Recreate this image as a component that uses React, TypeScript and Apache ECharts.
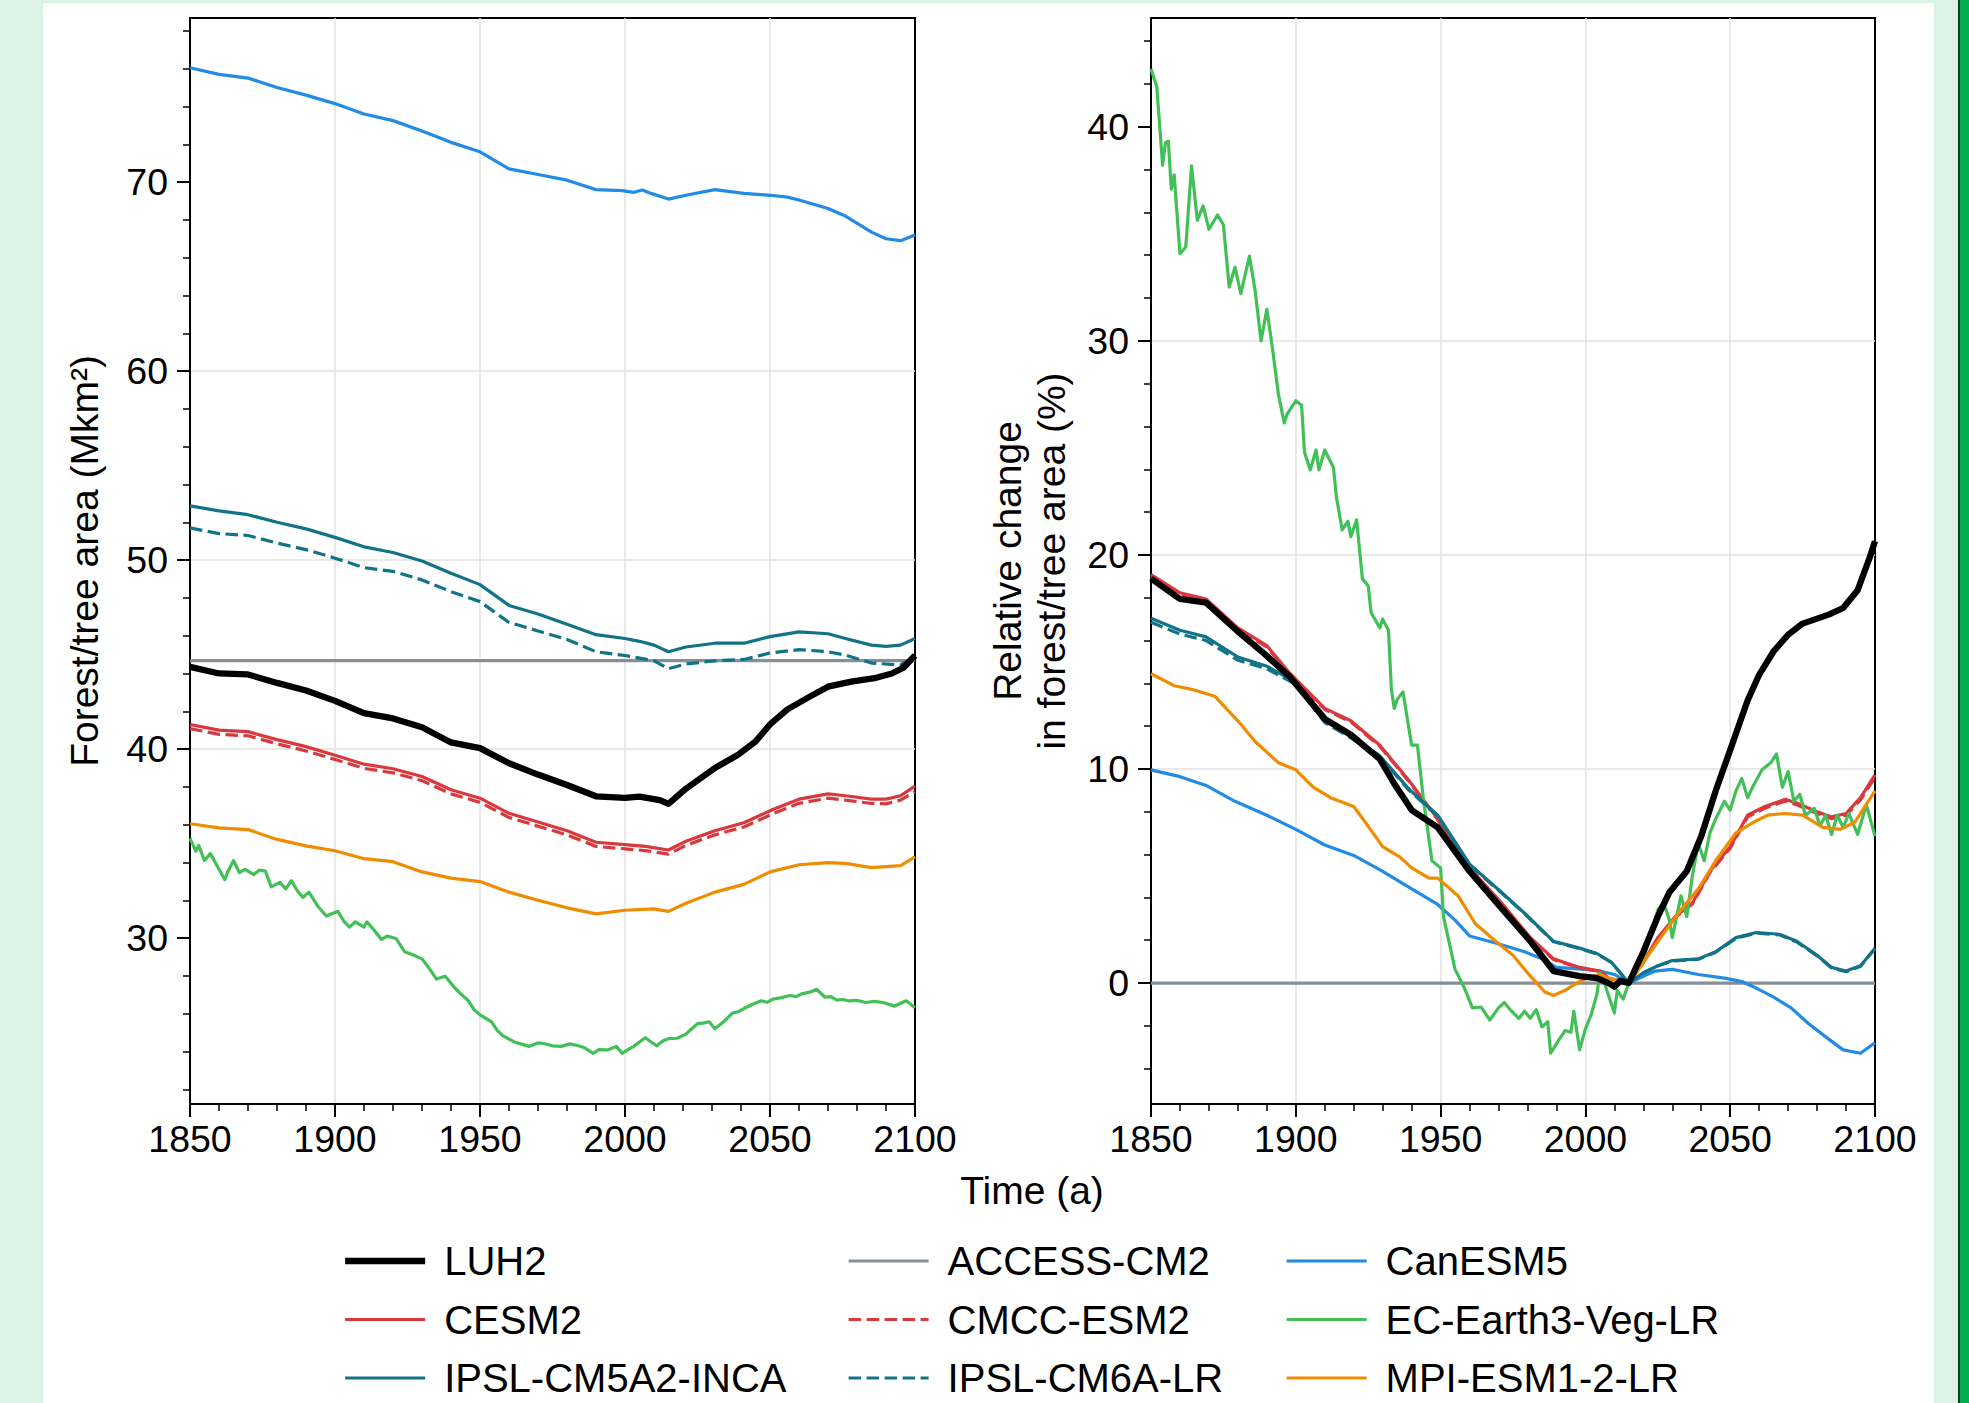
import React, { useEffect, useRef } from "react";
import * as echarts from "echarts";

const FONT = '"Liberation Sans", Arial, Helvetica, sans-serif';

// ---------- tick values ----------
const xTickLabels = [1850, 1900, 1950, 2000, 2050, 2100];
const leftMajor = [30, 40, 50, 60, 70];
const leftMinor = [22, 24, 26, 28, 32, 34, 36, 38, 42, 44, 46, 48, 52, 54, 56, 58, 62, 64, 66, 68, 72, 74, 76, 78];
const rightMajor = [0, 10, 20, 30, 40];
const rightMinor = [-4, -2, 2, 4, 6, 8, 12, 14, 16, 18, 22, 24, 26, 28, 32, 34, 36, 38, 42, 44];

// ---------- series names ----------
const col1 = ["LUH2", "CESM2", "IPSL-CM5A2-INCA"];
const col2 = ["ACCESS-CM2", "CMCC-ESM2", "IPSL-CM6A-LR"];
const col3 = ["CanESM5", "EC-Earth3-Veg-LR", "MPI-ESM1-2-LR"];

// ---------- left panel: forest/tree area (Mkm2) ----------
const luh2Abs = [[1850,44.35],[1860,44.0],[1870,43.95],[1880,43.5],[1890,43.1],[1900,42.55],[1910,41.9],[1920,41.62],[1930,41.15],[1940,40.35],[1950,40.05],[1960,39.25],[1970,38.65],[1980,38.1],[1990,37.5],[2000,37.42],[2005,37.48],[2008,37.4],[2010,37.35],[2012,37.3],[2015,37.1],[2021,37.9],[2031,39.0],[2039,39.7],[2045,40.4],[2050,41.3],[2056,42.1],[2064,42.8],[2070,43.3],[2078,43.57],[2086,43.75],[2092,44.0],[2096,44.3],[2100,44.95]];
const accessAbs = [[1850,44.68],[1900,44.68],[1950,44.68],[2000,44.68],[2050,44.68],[2100,44.68]];
const canesmAbs = [[1850,76.05],[1860,75.7],[1870,75.5],[1880,75.0],[1890,74.6],[1900,74.15],[1910,73.6],[1920,73.25],[1930,72.7],[1940,72.1],[1950,71.6],[1960,70.7],[1970,70.4],[1980,70.1],[1990,69.6],[1999,69.55],[2003,69.45],[2004,69.5],[2006,69.58],[2009,69.4],[2015,69.1],[2021,69.3],[2031,69.6],[2041,69.4],[2050,69.3],[2056,69.2],[2060,69.05],[2070,68.6],[2076,68.2],[2085,67.35],[2090,67.0],[2095,66.9],[2100,67.2]];
const cesmAbs = [[1850,41.3],[1860,41.0],[1870,40.92],[1880,40.5],[1890,40.13],[1900,39.67],[1910,39.2],[1920,38.96],[1930,38.55],[1940,37.85],[1950,37.4],[1960,36.6],[1970,36.14],[1980,35.68],[1990,35.07],[2000,34.94],[2007,34.85],[2015,34.66],[2021,35.12],[2031,35.68],[2041,36.1],[2051,36.8],[2060,37.35],[2070,37.63],[2076,37.53],[2085,37.35],[2090,37.35],[2095,37.53],[2100,38.04]];
const cmccAbs = [[1850,41.08],[1860,40.78],[1870,40.7],[1880,40.28],[1890,39.9],[1900,39.45],[1910,38.98],[1920,38.74],[1930,38.33],[1940,37.63],[1950,37.18],[1960,36.38],[1970,35.92],[1980,35.46],[1990,34.85],[2000,34.72],[2007,34.63],[2015,34.44],[2021,34.9],[2031,35.46],[2041,35.88],[2051,36.58],[2060,37.13],[2070,37.4],[2076,37.3],[2085,37.12],[2090,37.1],[2095,37.3],[2100,37.75]];
const ecearthAbs = [[1850,35.27],[1852,34.6],[1853,34.9],[1855,34.1],[1857,34.48],[1859,33.92],[1862,33.09],[1863,33.5],[1865,34.1],[1867,33.46],[1869,33.64],[1872,33.36],[1874,33.6],[1876,33.54],[1878,32.71],[1881,32.95],[1883,32.6],[1885,33.03],[1887,32.5],[1889,32.15],[1891,32.43],[1894,31.7],[1897,31.17],[1899,31.3],[1901,31.41],[1903,30.9],[1905,30.58],[1907,30.86],[1910,30.58],[1911,30.86],[1913,30.5],[1916,29.93],[1918,30.1],[1921,29.98],[1924,29.28],[1927,29.1],[1930,28.9],[1932,28.5],[1935,27.83],[1938,27.98],[1941,27.42],[1943,27.1],[1946,26.68],[1948,26.2],[1950,25.94],[1954,25.57],[1956,25.1],[1958,24.82],[1962,24.49],[1964,24.4],[1967,24.27],[1970,24.45],[1972,24.42],[1975,24.3],[1978,24.27],[1981,24.4],[1984,24.3],[1986,24.2],[1989,23.9],[1991,24.1],[1994,24.08],[1997,24.27],[1999,23.9],[2001,24.1],[2003,24.27],[2005,24.5],[2007,24.73],[2009,24.5],[2011,24.3],[2013,24.55],[2015,24.68],[2018,24.7],[2021,24.92],[2023,25.2],[2025,25.47],[2027,25.5],[2029,25.57],[2031,25.2],[2034,25.57],[2037,26.03],[2039,26.1],[2041,26.27],[2044,26.5],[2047,26.68],[2049,26.6],[2051,26.77],[2054,26.85],[2057,26.96],[2059,26.9],[2061,27.05],[2064,27.15],[2066,27.29],[2069,26.87],[2071,26.9],[2073,26.72],[2075,26.75],[2077,26.68],[2080,26.7],[2083,26.59],[2086,26.65],[2089,26.59],[2093,26.4],[2095,26.55],[2097,26.68],[2100,26.31]];
const inca5Abs = [[1850,52.87],[1860,52.6],[1870,52.4],[1880,52.0],[1890,51.65],[1900,51.2],[1910,50.7],[1920,50.4],[1930,49.95],[1940,49.3],[1950,48.7],[1960,47.6],[1970,47.15],[1980,46.6],[1990,46.05],[2000,45.85],[2005,45.7],[2010,45.5],[2015,45.15],[2021,45.4],[2031,45.6],[2041,45.6],[2050,45.95],[2060,46.2],[2070,46.1],[2076,45.85],[2085,45.5],[2090,45.43],[2095,45.5],[2100,45.85]];
const ipsl6Abs = [[1850,51.7],[1860,51.4],[1870,51.3],[1880,50.9],[1890,50.55],[1900,50.1],[1910,49.6],[1920,49.4],[1930,48.95],[1940,48.33],[1950,47.8],[1960,46.7],[1970,46.25],[1980,45.8],[1990,45.15],[2000,44.95],[2010,44.67],[2015,44.25],[2021,44.5],[2031,44.67],[2041,44.74],[2050,45.08],[2060,45.26],[2070,45.15],[2076,44.97],[2085,44.55],[2095,44.45],[2100,44.9]];
const mpiAbs = [[1850,36.05],[1860,35.83],[1870,35.74],[1880,35.22],[1890,34.88],[1900,34.62],[1910,34.2],[1920,34.04],[1930,33.5],[1940,33.17],[1950,32.99],[1960,32.43],[1970,32.0],[1980,31.6],[1990,31.28],[2000,31.47],[2010,31.54],[2015,31.41],[2021,31.84],[2031,32.43],[2041,32.84],[2050,33.5],[2060,33.88],[2070,33.99],[2076,33.95],[2085,33.73],[2095,33.83],[2100,34.29]];

// ---------- right panel: relative change (%) ----------
const luh2Rel = [[1850,18.9],[1860,17.94],[1869,17.77],[1880,16.42],[1889,15.4],[1898,14.3],[1910,12.34],[1919,11.6],[1929,10.46],[1934,9.31],[1940,8.08],[1949,7.27],[1960,5.22],[1971,3.5],[1981,1.95],[1989,0.56],[1998,0.32],[2004,0.23],[2008,0.0],[2010,-0.17],[2012,0.1],[2015,0],[2020,1.46],[2025,3.1],[2029,4.24],[2035,5.22],[2040,6.86],[2045,8.98],[2051,11.27],[2056,13.2],[2060,14.4],[2065,15.5],[2070,16.27],[2075,16.79],[2084,17.21],[2089,17.52],[2094,18.35],[2098,19.81],[2100,20.64]];
const accessRel = [[1850,0],[1900,0],[1950,0],[2000,0],[2050,0],[2100,0]];
const canesmRel = [[1850,9.96],[1860,9.64],[1869,9.23],[1879,8.49],[1890,7.84],[1900,7.18],[1910,6.45],[1920,5.96],[1930,5.22],[1940,4.4],[1949,3.67],[1955,2.94],[1960,2.2],[1969,1.87],[1979,1.46],[1985,1.13],[1990,0.73],[2000,0.64],[2005,0.56],[2010,0.4],[2015,0],[2020,0.32],[2024,0.56],[2030,0.64],[2039,0.4],[2048,0.23],[2054,0.07],[2058,-0.17],[2065,-0.66],[2071,-1.16],[2077,-1.89],[2084,-2.62],[2089,-3.12],[2095,-3.28],[2100,-2.79]];
const cesmRel = [[1850,19.08],[1860,18.23],[1869,17.94],[1880,16.59],[1890,15.76],[1898,14.46],[1910,12.83],[1919,12.25],[1929,11.11],[1939,9.47],[1949,7.67],[1960,5.38],[1971,3.75],[1981,2.12],[1989,1.13],[1998,0.73],[2005,0.56],[2008,0.23],[2015,0],[2020,0.97],[2025,2.12],[2031,3.1],[2037,3.75],[2043,5.22],[2050,6.37],[2056,7.84],[2062,8.25],[2069,8.58],[2073,8.41],[2080,8.0],[2085,7.76],[2090,7.92],[2095,8.66],[2100,9.72]];
const cmccRel = [[1850,19.0],[1860,18.15],[1869,17.88],[1880,16.52],[1890,15.7],[1898,14.4],[1910,12.78],[1919,12.2],[1929,11.06],[1939,9.43],[1949,7.63],[1960,5.35],[1971,3.72],[1981,2.1],[1989,1.1],[1998,0.71],[2005,0.54],[2008,0.22],[2015,0],[2020,0.95],[2025,2.08],[2031,3.06],[2037,3.7],[2043,5.16],[2050,6.3],[2056,7.76],[2062,8.17],[2069,8.5],[2073,8.33],[2080,7.92],[2085,7.68],[2090,7.84],[2095,8.56],[2100,9.6]];
const ecearthRel = [[1850,42.7],[1852,41.87],[1854,38.2],[1855,39.27],[1856,39.33],[1857,37.08],[1858,37.75],[1860,34.07],[1862,34.38],[1864,38.17],[1866,35.63],[1868,36.3],[1870,35.21],[1873,35.88],[1875,35.42],[1877,32.51],[1879,33.44],[1881,32.2],[1884,33.96],[1886,32.3],[1888,30.0],[1890,31.47],[1892,29.6],[1894,27.5],[1896,26.16],[1897,26.58],[1900,27.2],[1902,26.99],[1903,24.8],[1905,23.97],[1907,24.9],[1908,23.97],[1910,24.9],[1913,24.08],[1914,22.73],[1916,21.17],[1918,21.58],[1919,20.85],[1921,21.64],[1923,18.88],[1925,18.56],[1926,17.31],[1929,16.59],[1930,17.0],[1932,16.48],[1933,13.73],[1934,12.83],[1935,13.24],[1937,13.6],[1940,11.11],[1942,11.11],[1944,8.66],[1947,5.71],[1950,5.38],[1951,3.1],[1955,0.64],[1958,-0.17],[1961,-1.16],[1964,-1.12],[1967,-1.73],[1970,-1.16],[1972,-0.91],[1974,-1.24],[1977,-1.65],[1979,-1.32],[1981,-1.65],[1983,-1.24],[1985,-2.05],[1987,-1.81],[1988,-3.28],[1991,-2.62],[1993,-2.22],[1995,-2.3],[1996,-1.32],[1998,-3.12],[2000,-2.14],[2002,-1.48],[2004,-0.5],[2005,0.48],[2007,-0.17],[2009,-0.99],[2010,-1.4],[2011,-0.34],[2013,-0.75],[2015,0],[2017,0.48],[2020,1.13],[2023,2.44],[2025,3.42],[2027,3.75],[2029,2.94],[2030,2.12],[2033,4.08],[2035,3.1],[2037,5.06],[2039,6.53],[2041,5.71],[2043,7.02],[2045,7.67],[2048,8.49],[2050,8.08],[2052,8.98],[2054,9.56],[2056,8.66],[2058,9.23],[2061,9.96],[2064,10.29],[2066,10.7],[2068,9.15],[2070,9.88],[2072,8.49],[2074,8.82],[2076,7.84],[2079,8.17],[2081,7.35],[2083,7.84],[2085,6.94],[2087,7.84],[2089,7.27],[2091,7.92],[2094,6.94],[2097,8.33],[2100,6.86]];
const inca5Rel = [[1850,17.04],[1860,16.48],[1869,16.17],[1880,15.23],[1890,14.8],[1900,14.05],[1910,12.25],[1919,11.52],[1929,10.62],[1939,9.07],[1949,7.84],[1960,5.55],[1971,4.24],[1979,3.26],[1989,1.95],[1998,1.63],[2004,1.38],[2009,0.97],[2015,0],[2020,0.48],[2025,0.81],[2030,1.05],[2039,1.13],[2045,1.46],[2052,2.12],[2059,2.36],[2067,2.28],[2073,1.95],[2080,1.3],[2085,0.73],[2090,0.56],[2095,0.81],[2100,1.63]];
const ipsl6Rel = [[1850,16.85],[1860,16.3],[1869,16.0],[1880,15.08],[1890,14.68],[1900,13.95],[1910,12.17],[1919,11.45],[1929,10.56],[1939,9.02],[1949,7.8],[1960,5.52],[1971,4.21],[1979,3.24],[1989,1.93],[1998,1.61],[2004,1.36],[2009,0.96],[2015,0],[2020,0.47],[2025,0.8],[2030,1.03],[2039,1.11],[2045,1.44],[2052,2.09],[2059,2.33],[2067,2.25],[2073,1.92],[2080,1.27],[2085,0.7],[2090,0.53],[2095,0.78],[2100,1.6]];
const mpiRel = [[1850,14.45],[1858,13.89],[1864,13.72],[1872,13.4],[1880,12.25],[1886,11.27],[1894,10.29],[1900,9.96],[1906,9.15],[1912,8.66],[1920,8.25],[1924,7.51],[1930,6.37],[1936,5.88],[1940,5.38],[1946,4.9],[1949,4.9],[1956,4.08],[1962,2.77],[1969,1.95],[1975,1.3],[1981,0.32],[1986,-0.42],[1989,-0.58],[1993,-0.34],[1997,0],[2002,0.32],[2005,0.4],[2008,0.23],[2015,0],[2020,0.97],[2026,2.12],[2033,3.42],[2039,4.4],[2045,5.71],[2052,7.02],[2058,7.51],[2063,7.84],[2069,7.92],[2075,7.84],[2082,7.27],[2088,7.18],[2093,7.51],[2100,8.98]];

// ---------- styles ----------
const DASH = [12.5, 5.5];
const styles: Record<string, { color: string; width: number; dash?: number[] }> = {
  "LUH2": { color: "#000000", width: 6.3 },
  "ACCESS-CM2": { color: "#868e96", width: 3.2 },
  "CanESM5": { color: "#228be6", width: 3.2 },
  "CESM2": { color: "#d9383d", width: 3.2 },
  "CMCC-ESM2": { color: "#d9383d", width: 3.2, dash: DASH },
  "EC-Earth3-Veg-LR": { color: "#40c057", width: 3.2 },
  "IPSL-CM5A2-INCA": { color: "#117387", width: 3.2 },
  "IPSL-CM6A-LR": { color: "#117387", width: 3.2, dash: DASH },
  "MPI-ESM1-2-LR": { color: "#f08c00", width: 3.2 },
};

const absData: Record<string, number[][]> = {
  "LUH2": luh2Abs, "ACCESS-CM2": accessAbs, "CanESM5": canesmAbs, "CESM2": cesmAbs,
  "CMCC-ESM2": cmccAbs, "EC-Earth3-Veg-LR": ecearthAbs, "IPSL-CM5A2-INCA": inca5Abs,
  "IPSL-CM6A-LR": ipsl6Abs, "MPI-ESM1-2-LR": mpiAbs,
};
const relData: Record<string, number[][]> = {
  "LUH2": luh2Rel, "ACCESS-CM2": accessRel, "CanESM5": canesmRel, "CESM2": cesmRel,
  "CMCC-ESM2": cmccRel, "EC-Earth3-Veg-LR": ecearthRel, "IPSL-CM5A2-INCA": inca5Rel,
  "IPSL-CM6A-LR": ipsl6Rel, "MPI-ESM1-2-LR": mpiRel,
};
const drawOrder = ["LUH2", "ACCESS-CM2", "CanESM5", "CESM2", "CMCC-ESM2", "EC-Earth3-Veg-LR", "IPSL-CM5A2-INCA", "IPSL-CM6A-LR", "MPI-ESM1-2-LR"];

const AXIS_LINE = { color: "#000", width: 2 };
const GRID_LINE = { color: "#e2e2e2", width: 1.5 };

function xAxis(gridIndex: number) {
  return {
    type: "value", gridIndex, min: 1850, max: 2100, interval: 50,
    axisLine: { show: true, onZero: false, lineStyle: AXIS_LINE },
    axisTick: { show: true, length: 13, lineStyle: AXIS_LINE },
    minorTick: { show: true, splitNumber: 5, length: 7, lineStyle: { color: "#000", width: 1.5 } },
    axisLabel: {
      fontSize: 37.5, color: "#000", fontFamily: FONT, margin: 16,
      formatter: (v: number) => (xTickLabels.includes(v) ? String(v) : ""),
    },
    splitLine: { show: true, showMinLine: false, showMaxLine: false, lineStyle: GRID_LINE },
    minorSplitLine: { show: false },
  };
}

function yMain(gridIndex: number, min: number, max: number, majors: number[], name: string, nameGap: number, lineHeight: number) {
  return {
    type: "value", gridIndex, min, max, splitNumber: 5, position: "left",
    axisLine: { show: true, onZero: false, lineStyle: AXIS_LINE },
    axisTick: { show: true, length: 13, customValues: majors, lineStyle: AXIS_LINE },
    axisLabel: { show: true, customValues: majors, fontSize: 37.5, color: "#000", fontFamily: FONT, margin: 22 },
    splitLine: { show: true, showMinLine: false, showMaxLine: false, lineStyle: GRID_LINE },
    name, nameLocation: "middle", nameGap,
    nameTextStyle: { fontSize: 39, color: "#000", fontFamily: FONT, lineHeight, align: "center" },
  };
}

function yMinor(gridIndex: number, min: number, max: number, minors: number[]) {
  return {
    type: "value", gridIndex, min, max, splitNumber: 5, position: "left",
    axisLine: { show: false },
    axisTick: { show: true, length: 7, customValues: minors, lineStyle: { color: "#000", width: 1.5 } },
    axisLabel: { show: false },
    splitLine: { show: false },
  };
}

function buildOption() {
  const series: any[] = [];
  drawOrder.forEach((n) => {
    const s = styles[n];
    const ls = { color: s.color, width: s.width, type: s.dash ? s.dash : "solid", cap: "butt", join: "round" };
    series.push({ name: n, type: "line", xAxisIndex: 0, yAxisIndex: 0, data: absData[n], symbol: "none", showSymbol: false, lineStyle: ls, itemStyle: { color: s.color }, z: n === "LUH2" ? 3 : 2 });
    series.push({ name: n, type: "line", xAxisIndex: 1, yAxisIndex: 2, data: relData[n], symbol: "none", showSymbol: false, lineStyle: ls, itemStyle: { color: s.color }, z: n === "LUH2" ? 3 : 2 });
  });

  const legend = (names: string[], left: number) => ({
    orient: "vertical", left, top: 1236, itemWidth: 80, itemHeight: 40, itemGap: 18.5,
    data: names, selectedMode: false,
    lineStyle: { width: "inherit" },
    itemStyle: { opacity: 0, color: "rgba(0,0,0,0)", borderWidth: 0 },
    textStyle: { fontSize: 40, color: "#000", fontFamily: FONT, lineHeight: 40, padding: [0, 0, 0, 14] },
  });

  return {
    animation: false,
    backgroundColor: "transparent",
    textStyle: { fontFamily: FONT },
    grid: [
      { left: 190, top: 18, width: 725, height: 1086, show: true, borderColor: "#000", borderWidth: 2, backgroundColor: "transparent", containLabel: false },
      { left: 1151, top: 18, width: 724, height: 1086, show: true, borderColor: "#000", borderWidth: 2, backgroundColor: "transparent", containLabel: false },
    ],
    xAxis: [xAxis(0), xAxis(1)],
    yAxis: [
      yMain(0, 21.22, 78.68, leftMajor, "Forest/tree area (Mkm²)", 86, 40),
      yMinor(0, 21.22, 78.68, leftMinor),
      yMain(1, -5.65, 45.08, rightMajor, "Relative change\nin forest/tree area (%)", 78, 44),
      yMinor(1, -5.65, 45.08, rightMinor),
    ],
    legend: [legend(col1, 337), legend(col2, 842), legend(col3, 1280)],
    graphic: [
      { type: "text", x: 1032, y: 1190, style: { text: "Time (a)", fontSize: 39, fontFamily: FONT, fill: "#000", align: "center", verticalAlign: "middle" } },
    ],
    series,
  };
}

export default function App() {
  const ref = useRef<HTMLDivElement>(null);
  useEffect(() => {
    if (!ref.current) return;
    const chart = echarts.init(ref.current, null, { renderer: "svg" });
    chart.setOption(buildOption() as any);
    return () => chart.dispose();
  }, []);
  return (
    <div style={{ position: "fixed", left: 0, top: 0, width: 1969, height: 1403, background: "#dcf2e4", overflow: "hidden" }}>
      <div style={{ position: "absolute", left: 43, top: 3, width: 1891, height: 1400, background: "#ffffff" }} />
      <div style={{ position: "absolute", left: 1958, top: 0, width: 2, height: 1403, background: "#0f3d1e" }} />
      <div style={{ position: "absolute", left: 1960, top: 0, width: 9, height: 1403, background: "#00ae4f" }} />
      <div ref={ref} style={{ position: "absolute", left: 0, top: 0, width: 1969, height: 1403 }} />
    </div>
  );
}
